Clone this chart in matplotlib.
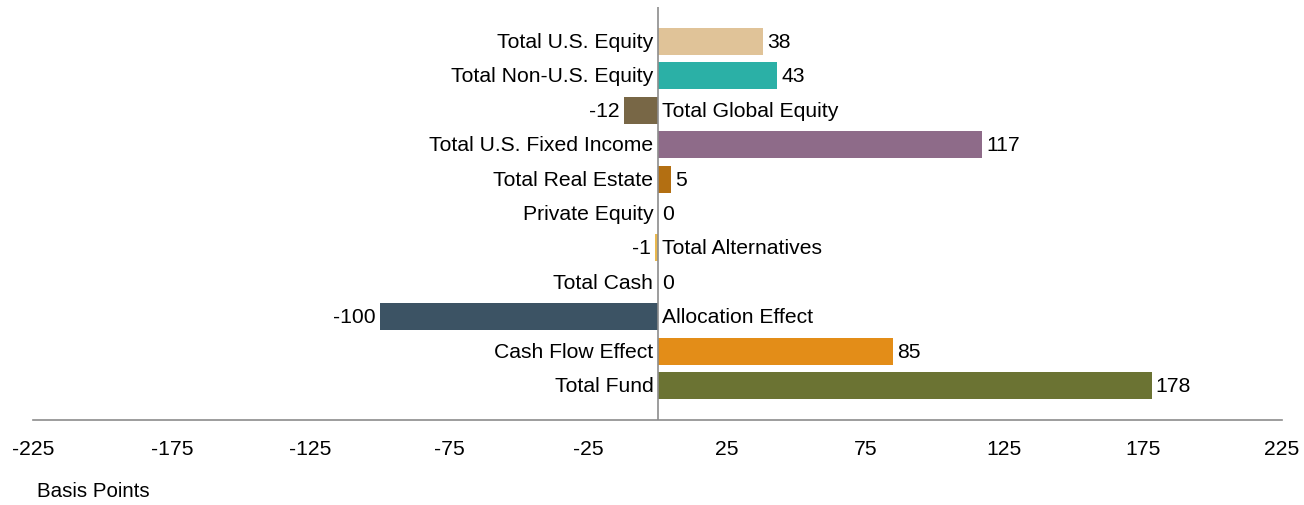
import matplotlib
matplotlib.use("Agg")
import matplotlib.pyplot as plt

categories = ["Total U.S. Equity", "Total Non-U.S. Equity", "Total Global Equity",
              "Total U.S. Fixed Income", "Total Real Estate", "Private Equity",
              "Total Alternatives", "Total Cash", "Allocation Effect",
              "Cash Flow Effect", "Total Fund"]
values = [38, 43, -12, 117, 5, 0, -1, 0, -100, 85, 178]
colors = ["#E0C398", "#2BB0A6", "#786746", "#8E6B89", "#B36F12", "#C9A24A",
          "#E9B84F", "#888888", "#3C5364", "#E38D18", "#6B7333"]
xticks = [-225, -175, -125, -75, -25, 25, 75, 125, 175, 225]

plt.rcParams['font.family'] = ['Liberation Sans', 'DejaVu Sans']
FS = 15.2

fig = plt.figure(figsize=(13.04, 5.06), dpi=100)
ax = fig.add_axes([33/1304, 1-421/506, 1249/1304, 413/506])

ypos = list(range(len(categories)))
ax.barh(ypos, values, height=0.78, color=colors, zorder=2)
ax.set_xlim(-225, 225)
ax.set_ylim(len(categories) - 1 + 1.0, -1.0)
ax.axvline(0, color="#8c8c8c", lw=1.2, zorder=3)

for y, cat, v in zip(ypos, categories, values):
    if v >= 0:
        ax.annotate(cat, (0, y), xytext=(-3, 0), textcoords="offset points",
                    ha="right", va="center", fontsize=FS)
        ax.annotate(str(v), (v, y), xytext=(3, 0), textcoords="offset points",
                    ha="left", va="center", fontsize=FS)
    else:
        ax.annotate(cat, (0, y), xytext=(3, 0), textcoords="offset points",
                    ha="left", va="center", fontsize=FS)
        ax.annotate(str(v), (v, y), xytext=(-3, 0), textcoords="offset points",
                    ha="right", va="center", fontsize=FS)

ax.set_xticks(xticks)
ax.set_xticklabels([str(t) for t in xticks], fontsize=FS)
ax.tick_params(axis="x", length=0, pad=14)
ax.set_yticks([])
for s in ["top", "right", "left"]:
    ax.spines[s].set_visible(False)
ax.spines["bottom"].set_color("#8c8c8c")
ax.spines["bottom"].set_linewidth(1.2)

fig.text(37/1304, 1-492/506, "Basis Points", fontsize=14.8, ha="left", va="center")

fig.savefig("out.png", dpi=100)
